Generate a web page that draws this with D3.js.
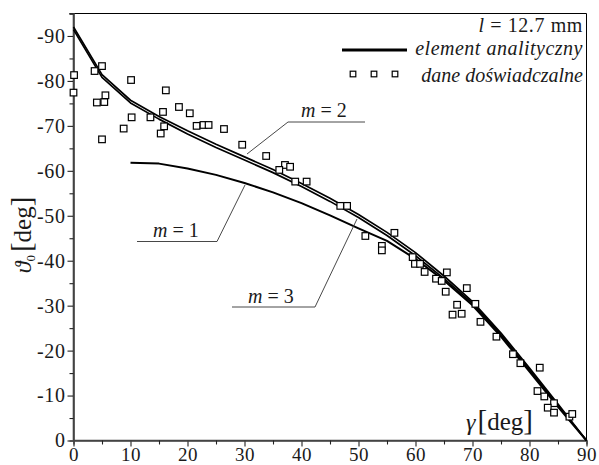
<!DOCTYPE html>
<html>
<head>
<meta charset="utf-8">
<style>
  body { margin: 0; background: #fff; }
  svg text { font-family: 'Liberation Serif', 'DejaVu Serif', serif; fill: #1a1a1a; }
  .tick text { font-size: 20px; letter-spacing: 0.6px; }
  .curve { fill: none; stroke: #000; stroke-width: 1.7; stroke-linejoin: round; }
  .pt { fill: #fff; stroke: #000; stroke-width: 1.2; }
  .leader { fill: none; stroke: #333; stroke-width: 0.9; }
</style>
</head>
<body>
<svg width="599" height="465"></svg>
<script src="https://d3js.org/d3.v7.min.js"></script>
<script>

// model curves, gamma in deg
var gamma = [0, 5, 10, 15, 20, 25, 30, 35, 40, 45, 50, 55, 60, 65, 70, 75, 80, 85, 90];
var m2 = [-92.0, -81.4, -75.7, -72.1, -68.9, -65.9, -63.1, -60.3, -57.2, -53.9, -50.3, -46.3, -41.8, -36.6, -30.9, -23.9, -16.1, -8.1, 0];
var m3 = [-91.4, -80.8, -75.1, -71.5, -68.2, -65.2, -62.4, -59.6, -56.5, -53.2, -49.6, -45.6, -41.1, -36.0, -30.5, -23.5, -15.7, -7.8, 0];
var gammaM1 = [10, 15, 20, 25, 30, 35, 40, 45, 50, 55, 60, 65, 70, 75, 80, 85, 90];
var m1 = [-61.8, -61.6, -60.5, -59.1, -57.3, -55.2, -52.8, -50.1, -47.2, -44.4, -40.4, -35.6, -30.1, -23.1, -15.3, -7.5, 0];

// measured points (dane doswiadczalne)
var expGamma = [0.1, 0.0, 3.7, 5.0, 4.1, 5.4, 5.6, 5.0, 10.1, 10.2, 8.8, 13.5, 16.2, 15.7, 15.3, 15.9,
  18.5, 20.4, 21.6, 22.8, 23.7, 26.4, 29.6, 33.8, 37.1, 38.0, 36.1, 38.9, 40.9, 46.8, 48.0,
  51.2, 56.3, 54.1, 54.1, 59.5, 59.9, 60.8, 61.6, 63.6, 64.6, 65.5, 65.3, 69.0, 67.3, 70.5,
  66.5, 68.1, 71.4, 74.2, 77.1, 78.4, 81.8, 81.4, 82.6, 84.3, 83.2, 84.3, 87.0, 87.5];
var expTheta = [-81.3, -77.4, -82.2, -83.3, -75.2, -75.3, -76.8, -67.0, -80.2, -71.9, -69.4, -71.9, -77.9, -73.1, -68.3, -69.9,
  -74.2, -72.8, -70.0, -70.2, -70.2, -69.3, -65.8, -63.3, -61.3, -60.9, -60.2, -57.6, -57.6, -52.2, -52.2,
  -45.5, -46.2, -43.3, -42.3, -40.8, -39.3, -39.3, -37.5, -36.0, -35.5, -37.4, -33.1, -33.9, -30.2, -30.4,
  -28.0, -28.2, -26.4, -23.1, -19.2, -17.2, -16.2, -11.0, -9.8, -8.3, -7.3, -6.2, -5.3, -5.9];

var xTicks = [0, 10, 20, 30, 40, 50, 60, 70, 80, 90];
var xMinor = [5, 15, 25, 35, 45, 55, 65, 75, 85];
var yTicks = [0, -10, -20, -30, -40, -50, -60, -70, -80, -90];
var yMinor = [-5, -15, -25, -35, -45, -55, -65, -75, -85, -95];

var svg = d3.select("svg");

var x = d3.scaleLinear().domain([0, 90]).range([73.5, 586.5]);
var y = d3.scaleLinear().domain([0, -95]).range([440.5, 13.5]);

// frame top / right
svg.append("line").attr("x1", x(0) - 4).attr("x2", x(90)).attr("y1", y(-95)).attr("y2", y(-95))
  .attr("stroke", "#000").attr("stroke-width", 1);
svg.append("line").attr("x1", x(90)).attr("x2", x(90)).attr("y1", y(-95)).attr("y2", y(0))
  .attr("stroke", "#000").attr("stroke-width", 1);

// axes
var gx = svg.append("g").attr("transform", "translate(0," + y(0) + ")")
  .call(d3.axisBottom(x).tickValues(xTicks).tickSize(6).tickPadding(1).tickFormat(function (d) { return String(d); }));
gx.selectAll(".tick text").style("font-size", "19px");
svg.append("g").attr("transform", "translate(0," + y(0) + ")")
  .call(d3.axisBottom(x).tickValues(xMinor).tickSize(4).tickFormat(""));
var gy = svg.append("g").attr("transform", "translate(" + x(0) + ",0)")
  .call(d3.axisLeft(y).tickValues(yTicks).tickSize(6).tickPadding(2).tickFormat(function (d) { return String(d); }));
svg.append("g").attr("transform", "translate(" + x(0) + ",0)")
  .call(d3.axisLeft(y).tickValues(yMinor).tickSize(4).tickFormat(""));

svg.selectAll(".domain").attr("stroke", "#444").attr("stroke-width", 1.6);
svg.selectAll(".tick line").attr("stroke", "#222").attr("stroke-width", 1.1);
svg.selectAll(".tick text").attr("fill", "#1a1a1a");
gx.select(".domain").attr("d", "M" + x(0) + ",0H" + x(90));
gy.select(".domain").attr("d", "M0," + y(-95) + "V" + y(0));

// curves
var line = d3.line().x(function (d) { return x(d[0]); }).y(function (d) { return y(d[1]); });
svg.append("path").attr("class", "curve").style("stroke-width", 2).attr("d", line(d3.zip(gammaM1, m1)));
svg.append("path").attr("class", "curve").attr("d", line(d3.zip(gamma, m2)));
svg.append("path").attr("class", "curve").attr("d", line(d3.zip(gamma, m3)));

// experiment points
var s = 6.6;
svg.selectAll(".pt").data(d3.zip(expGamma, expTheta)).enter().append("rect")
  .attr("class", "pt")
  .attr("x", function (d) { return x(d[0]) - s / 2; })
  .attr("y", function (d) { return y(d[1]) - s / 2; })
  .attr("width", s).attr("height", s);

// m labels with leaders
function mLabel(tx, ty, ux1, ux2, uy, lx, ly, n) {
  var t = svg.append("text").attr("x", tx).attr("y", ty).style("font-size", "20px");
  t.append("tspan").style("font-style", "italic").text("m");
  t.append("tspan").text(" = " + n);
  var endX = (lx < (ux1 + ux2) / 2) ? ux1 : ux2;
  svg.append("path").attr("class", "leader")
    .attr("d", "M" + ux1 + "," + uy + "H" + ux2 + "M" + endX + "," + uy + "L" + lx + "," + ly);
}
mLabel(301, 117, 288, 365, 122, 247, 154, 2);
mLabel(153, 237, 137, 217, 241.5, 245, 185, 1);
mLabel(248, 303, 232, 315, 307, 357, 219, 3);

// legend
var lg = svg.append("text").attr("x", 583).attr("y", 32).attr("text-anchor", "end")
  .style("font-size", "20px").style("letter-spacing", "0.6px");
lg.append("tspan").style("font-style", "italic").text("l");
lg.append("tspan").text(" = 12.7 mm");
svg.append("line").attr("x1", 342).attr("x2", 407).attr("y1", 50).attr("y2", 50)
  .attr("stroke", "#000").attr("stroke-width", 3);
svg.append("text").attr("x", 583).attr("y", 55).attr("text-anchor", "end")
  .style("font-size", "20px").style("letter-spacing", "0.5px").style("font-style", "italic").text("element analityczny");
[353, 374, 395].forEach(function (cx) {
  svg.append("rect").attr("class", "pt").attr("x", cx - 2.8).attr("y", 74 - 2.8).attr("width", 5.6).attr("height", 5.6);
});
svg.append("text").attr("x", 583).attr("y", 81.5).attr("text-anchor", "end")
  .style("font-size", "20px").style("font-style", "italic").text("dane doświadczalne");

// axis titles
var xt = svg.append("text").attr("x", 466).attr("y", 430);
xt.append("tspan").style("font-size", "24px").style("font-style", "italic").text("γ");
xt.append("tspan").style("font-size", "29px").attr("dx", 2).text("[");
xt.append("tspan").style("font-size", "25px").text("deg");
xt.append("tspan").style("font-size", "29px").text("]");

var yt = svg.append("text").attr("transform", "translate(31,235) rotate(-90)").attr("text-anchor", "middle");
yt.append("tspan").style("font-size", "24px").style("font-style", "italic").text("ϑ");
yt.append("tspan").style("font-size", "13px").attr("dy", 4).text("0");
yt.append("tspan").style("font-size", "29px").attr("dy", -4).attr("dx", 3).text("[");
yt.append("tspan").style("font-size", "25px").text("deg");
yt.append("tspan").style("font-size", "29px").text("]");

</script>
</body>
</html>
